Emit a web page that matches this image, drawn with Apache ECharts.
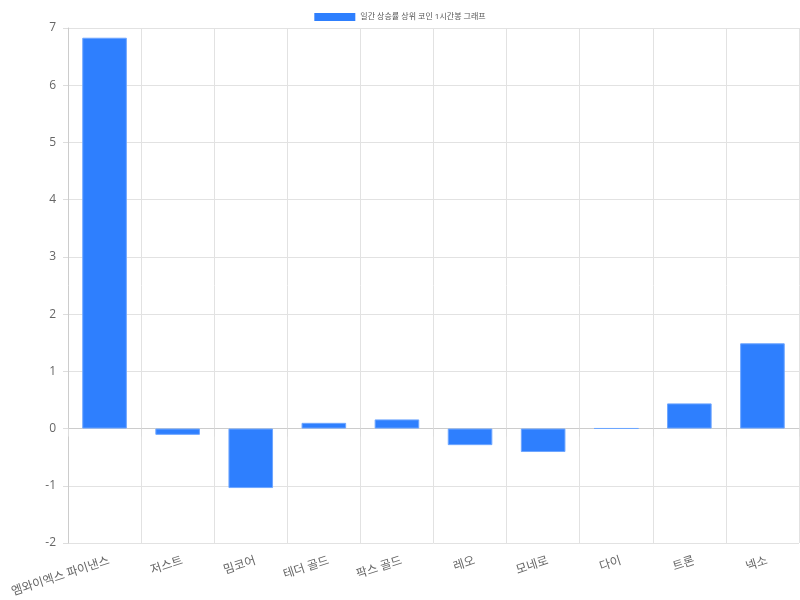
<!DOCTYPE html>
<html><head><meta charset="utf-8">
<script src="https://cdn.jsdelivr.net/npm/echarts@6/dist/echarts.min.js"></script>
<style>html,body{margin:0;padding:0;background:#fff}#c{width:800px;height:600px}</style>
</head><body><div id="c"></div>
<script>
const categories = ['엠와이엑스 파이낸스','저스트','밈코어','테더 골드','팍스 골드','레오','모네로','다이','트론','넥소'];
const values = [6.83, -0.11, -1.04, 0.10, 0.16, -0.29, -0.41, 0.003, 0.44, 1.49];
const seriesName = '일간 상승률 상위 코인 1시간봉 그래프';
const yTicks = {min: -2, max: 7, interval: 1};
const font = "'Open Sans','Noto Sans CJK KR',sans-serif";
const chart = echarts.init(document.getElementById('c'));
chart.setOption({
  animation: false,
  textStyle: {fontFamily: font},
  legend: {top: 8, left: 'center', itemWidth: 41, itemHeight: 8, itemGap: 4,
    itemStyle: {borderWidth: 0},
    textStyle: {fontSize: 8, color: '#555', fontFamily: font}, icon: 'rect'},
  grid: {left: 68, right: 1, top: 28, bottom: 57, containLabel: false},
  xAxis: {type: 'category', data: categories, boundaryGap: true,
    axisLine: {show: true, lineStyle: {color: '#ccc'}},
    axisTick: {show: true, length: 8, lineStyle: {color: '#ddd'}},
    splitLine: {show: true, lineStyle: {color: '#e2e2e2'}},
    axisLabel: {rotate: 18, color: '#666', fontSize: 12, margin: 19, interval: 0, fontFamily: font,
      padding: [0, -5, 0, 0]}},
  yAxis: {type: 'value', min: yTicks.min, max: yTicks.max, interval: yTicks.interval,
    axisLine: {show: true, lineStyle: {color: '#ccc'}},
    axisTick: {show: true, length: 5, lineStyle: {color: '#ddd'}},
    splitLine: {show: true, lineStyle: {color: '#e2e2e2'}},
    axisLabel: {color: '#666', fontSize: 12, margin: 12, fontFamily: font}},
  series: [{name: seriesName, type: 'bar', data: values, barWidth: '61%',
    itemStyle: {color: '#2e7ffe', borderColor: '#6ea6ff', borderWidth: 1}}]
});
</script></body></html>
